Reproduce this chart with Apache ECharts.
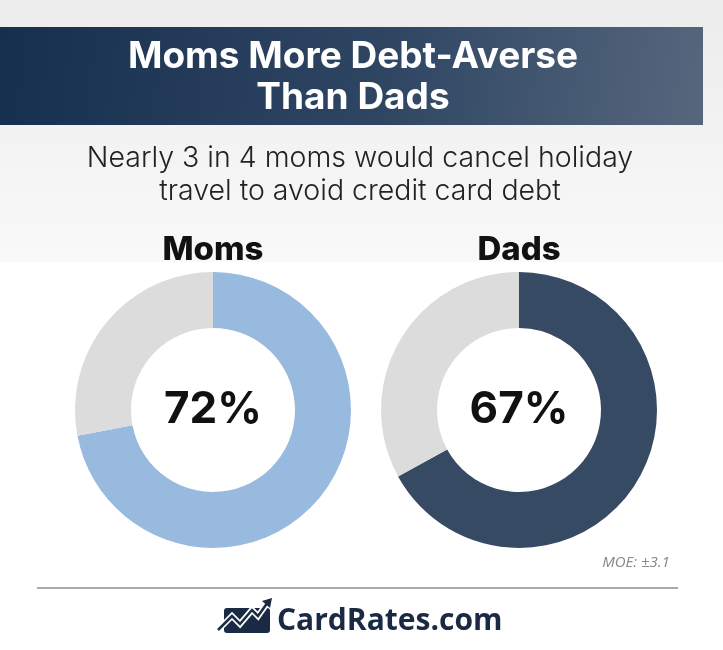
<!DOCTYPE html>
<html><head><meta charset="utf-8">
<script src="https://cdn.jsdelivr.net/npm/echarts@6/dist/echarts.min.js"></script>
<style>html,body{margin:0;padding:0;background:#fff}#c{width:723px;height:650px}</style>
</head><body><div id="c"></div>
<script>
const groups = ['Moms', 'Dads'];
const yesValues = [72, 67];
const noValues = [28, 33];
const mainColors = ['#98bade', '#364a64'];
const restColor = '#dcdcdc';
const titleLines = ['Moms More Debt-Averse', 'Than Dads'];
const subtitleLines = ['Nearly 3 in 4 moms would cancel holiday', 'travel to avoid credit card debt'];
const moeText = 'MOE: \u00b13.1';
const brand = 'CardRates.com';

const centers = [[213, 410], [519, 410]];
const chart = echarts.init(document.getElementById('c'), null, {renderer: 'canvas'});

const series = groups.map((g, i) => ({
  type: 'pie',
  center: centers[i],
  radius: [82, 138],
  startAngle: 90,
  clockwise: true,
  silent: true,
  label: {show: false},
  labelLine: {show: false},
  itemStyle: {borderWidth: 0},
  data: [
    {name: g + ' yes', value: yesValues[i], itemStyle: {color: mainColors[i]}},
    {name: g + ' no', value: noValues[i], itemStyle: {color: restColor}}
  ]
}));

const font = 'Inter, "Noto Sans", sans-serif';
const graphic = [
  {type: 'rect', z: -10, shape: {x: 0, y: 0, width: 723, height: 262},
   style: {fill: new echarts.graphic.LinearGradient(0, 0, 0, 1, [{offset: 0, color: '#ececec'}, {offset: 1, color: '#f9f9f9'}])}},
  {type: 'rect', z: -5, shape: {x: 0, y: 27, width: 703, height: 98},
   style: {fill: new echarts.graphic.LinearGradient(0, 0, 1, 1, [{offset: 0, color: '#172f4f'}, {offset: 0.55, color: '#2f4663'}, {offset: 1, color: '#56677d'}])}},
  {type: 'text', style: {x: 353, y: 57, text: titleLines[0], fill: '#ffffff', font: '700 37px ' + font, textAlign: 'center', textVerticalAlign: 'middle'}},
  {type: 'text', style: {x: 353, y: 98, text: titleLines[1], fill: '#ffffff', font: '700 37px ' + font, textAlign: 'center', textVerticalAlign: 'middle'}},
  {type: 'text', style: {x: 360, y: 158, text: subtitleLines[0], fill: '#222222', font: '300 28.5px ' + font, textAlign: 'center', textVerticalAlign: 'middle'}},
  {type: 'text', style: {x: 360, y: 191, text: subtitleLines[1], fill: '#222222', font: '300 28.5px ' + font, textAlign: 'center', textVerticalAlign: 'middle'}},
  {type: 'text', style: {x: 636, y: 563, text: moeText, fill: '#888888', font: 'italic 15px "Open Sans", sans-serif', textAlign: 'center', textVerticalAlign: 'middle'}},
  {type: 'line', shape: {x1: 37, y1: 588, x2: 678, y2: 588}, style: {stroke: '#aaaaaa', lineWidth: 2}},
  {type: 'text', style: {x: 277, y: 621, text: brand, fill: '#1a2a44', font: '700 30px "Open Sans", sans-serif', textAlign: 'left', textVerticalAlign: 'middle'}},
  // logo icon
  {type: 'rect', shape: {x: 224, y: 608, width: 46, height: 25, r: 3}, style: {fill: '#1a2a44'}},
  {type: 'polyline', shape: {points: [[218, 630], [232, 616], [240, 624], [252, 610], [258, 616], [268, 602]]}, style: {stroke: '#ffffff', lineWidth: 6, fill: null}},
  {type: 'polyline', shape: {points: [[218, 630], [232, 616], [240, 624], [252, 610], [258, 616], [268, 602]]}, style: {stroke: '#1a2a44', lineWidth: 2.5, fill: null}},
  {type: 'polygon', shape: {points: [[262, 601], [272, 598], [270, 608]]}, style: {fill: '#1a2a44'}}
];
groups.forEach((g, i) => {
  graphic.push({type: 'text', style: {x: centers[i][0], y: 250, text: g, fill: '#111111', font: '800 33px ' + font, textAlign: 'center', textVerticalAlign: 'middle'}});
  graphic.push({type: 'text', z: 10, style: {x: centers[i][0], y: 410, text: yesValues[i] + '%', fill: '#111111', font: '700 44px ' + font, textAlign: 'center', textVerticalAlign: 'middle'}});
});

chart.setOption({
  backgroundColor: '#ffffff',
  animation: false,
  series: series,
  graphic: graphic
});
</script></body></html>
